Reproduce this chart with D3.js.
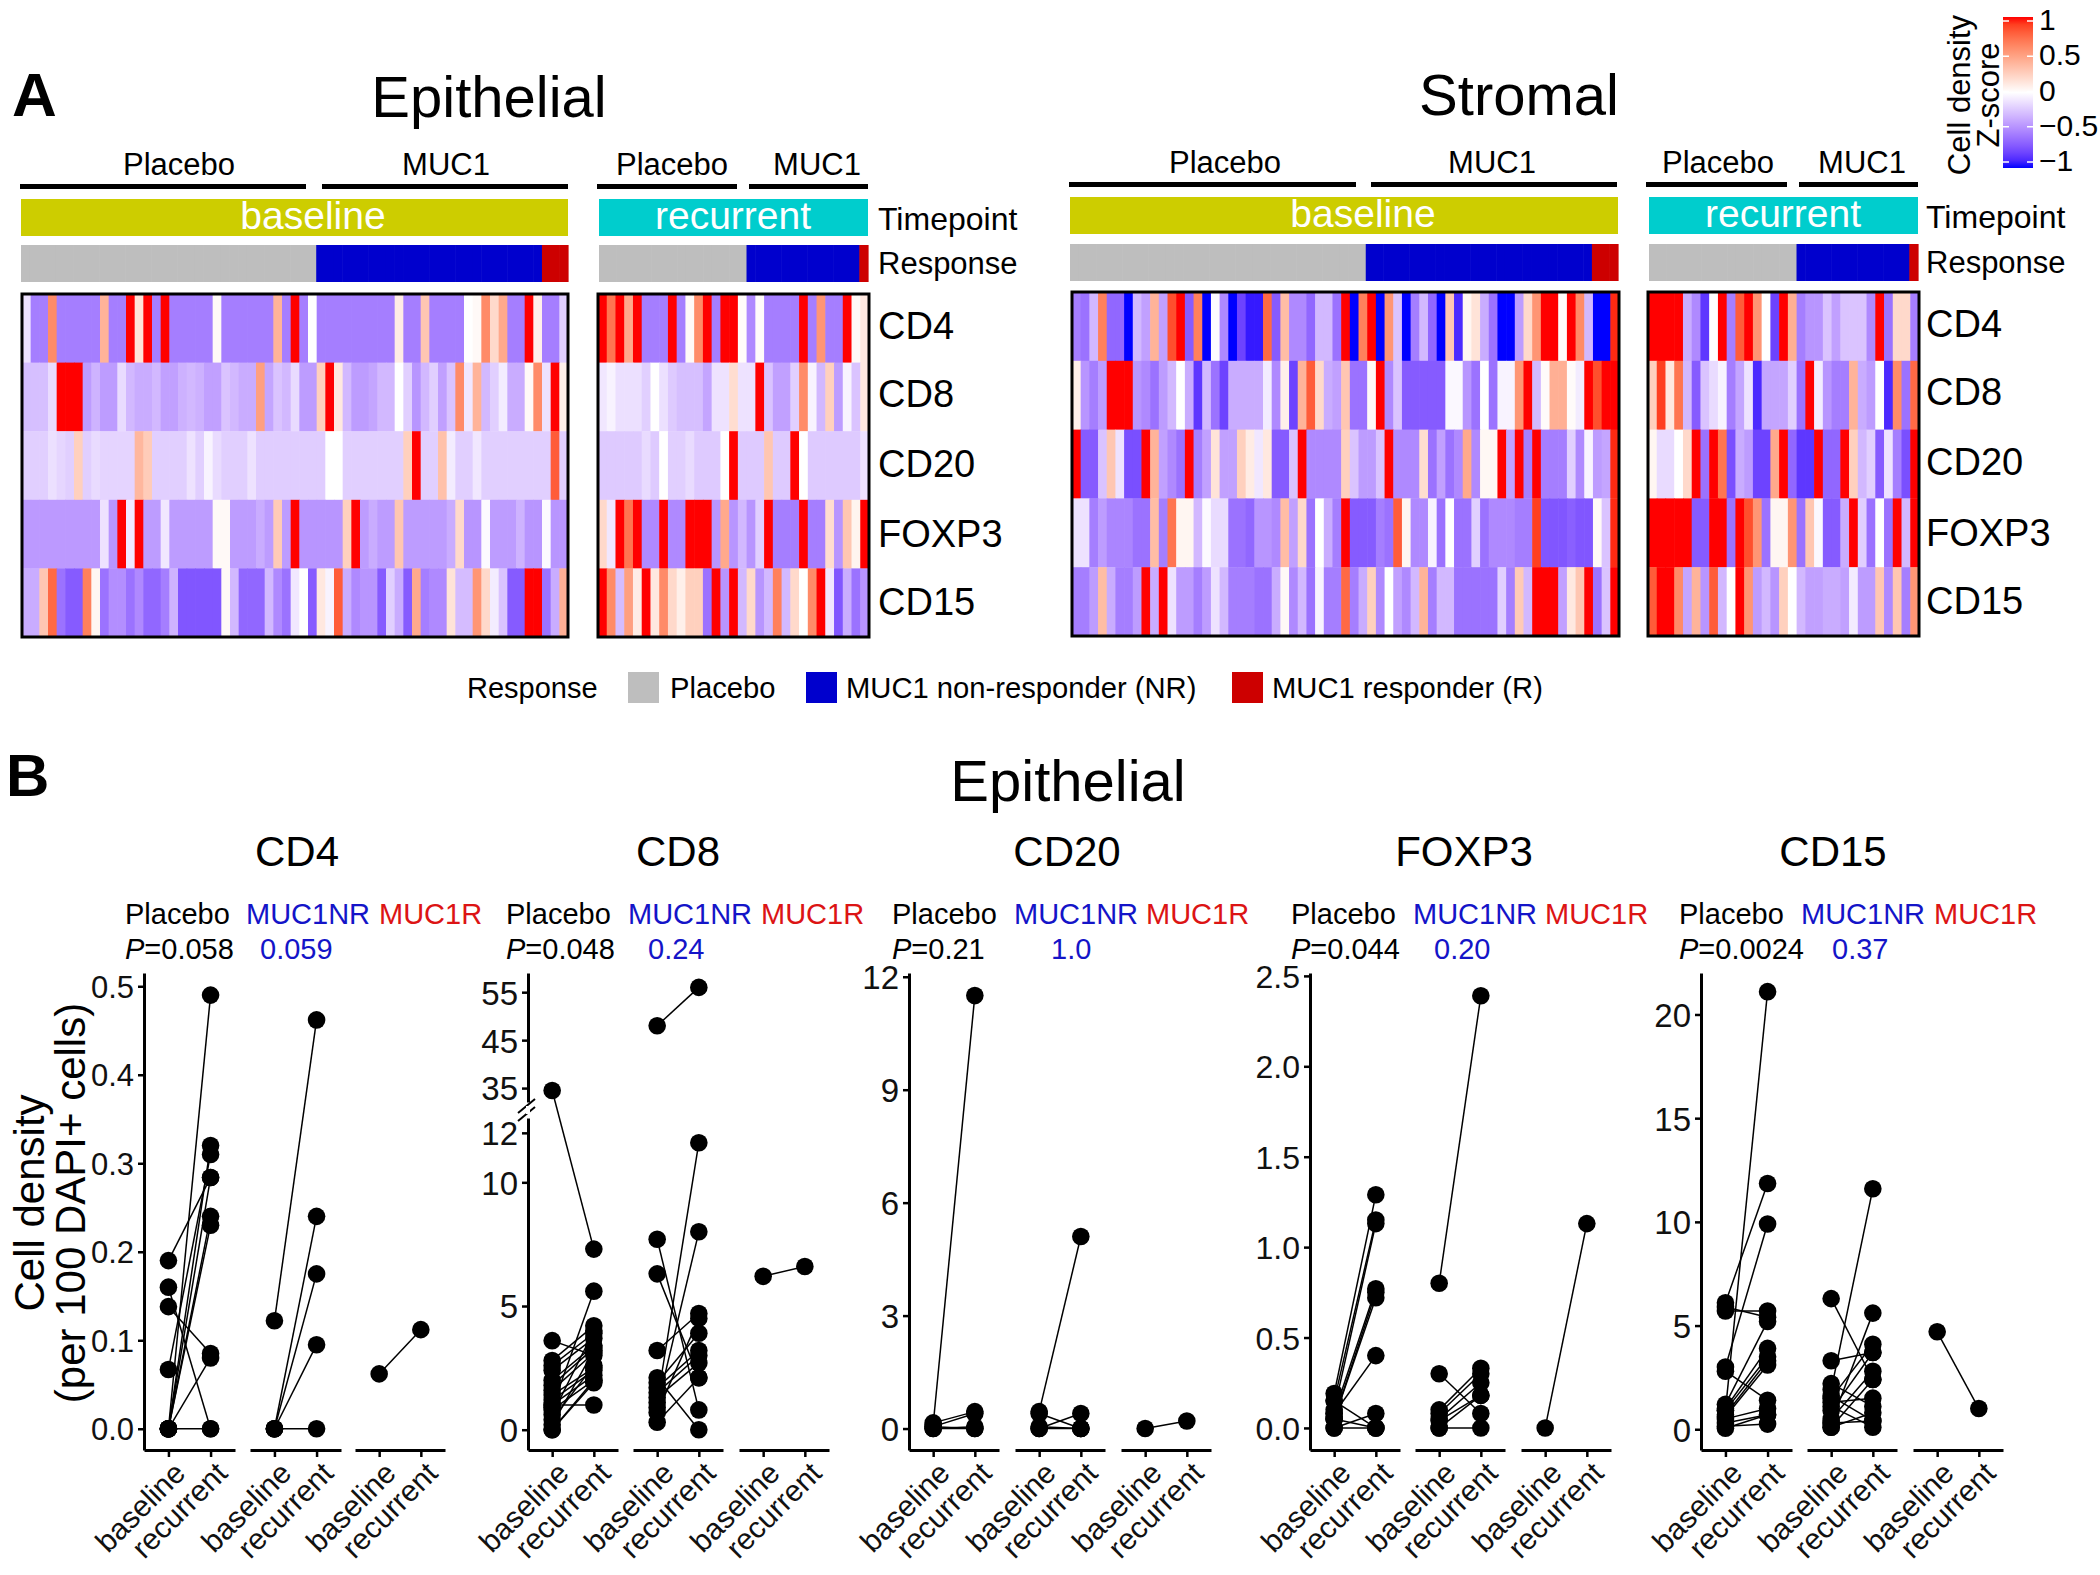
<!DOCTYPE html>
<html><head><meta charset="utf-8">
<script src="https://cdnjs.cloudflare.com/ajax/libs/d3/7.8.5/d3.min.js"></script>
<style>
html,body{margin:0;padding:0;background:#fff}
svg{display:block}
text{font-family:"Liberation Sans",Arial,sans-serif;fill:#000}
</style></head><body>
<svg id="c" width="2100" height="1575" viewBox="0 0 2100 1575"></svg>
<script>
// ---------- Panel A: labels ----------
const markers = ["CD4","CD8","CD20","FOXP3","CD15"];
const responseLevels = ["Placebo","MUC1 non-responder (NR)","MUC1 responder (R)"];
const responseColors = ["#bebebe","#0000cd","#cd0000"];
const baselineResponseCounts = [34,26,3];
const recurrentResponseCounts = [17,13,1];

// ---------- Panel A: epithelial baseline ----------
const epiBaseCD4 = [-.12,-.55,-.55,.6,-.55,-.55,-.55,-.55,-.55,.4,-.55,-.55,1,.15,1,-.55,1,-.55,-.55,-.55,-.55,-.55,.03,-.55,-.55,-.55,-.55,-.55,-.55,.4,-.55,1,-.55,0,-.55,-.55,-.55,-.55,-.55,-.55,-.55,-.55,-.55,.1,-.55,-.55,.3,-.55,-.55,-.55,-.55,0,.03,.6,.2,.45,-.55,-.55,1,.08,-.55,-.55,-.2];
const epiBaseCD8 = [-.27,-.27,-.27,-.15,1,1,1,-.42,-.32,-.42,-.42,-.15,-.3,-.35,-.35,-.3,-.4,-.4,-.33,-.3,-.33,-.4,-.4,-.25,-.3,-.35,-.35,.5,-.38,-.25,-.3,-.15,-.42,-.42,.25,1,.12,-.3,-.42,-.42,-.38,-.3,-.3,0,-.2,-.45,-.3,-.2,-.4,-.25,.6,-.1,.4,-.3,-.2,-.08,-.35,-.35,.03,.6,-.12,1,.08];
const epiBaseCD20 = [-.2,-.2,-.2,-.13,-.17,-.2,.25,-.2,-.15,-.18,-.18,-.18,-.18,.38,.27,-.2,-.2,-.2,-.2,-.12,-.2,-.05,-.15,-.2,-.2,-.2,-.12,-.21,-.21,-.21,-.21,-.21,-.21,-.21,-.21,0,0,-.2,-.2,-.2,-.2,-.2,-.2,-.2,.25,1,-.2,-.2,.33,-.08,-.2,-.2,-.1,-.2,-.2,-.2,-.2,-.2,-.2,-.2,-.2,.8,-.2];
const epiBaseFOXP3 = [-.43,-.43,-.43,-.43,-.43,-.43,-.43,-.43,-.43,-.12,-.45,1,-.1,1,-.42,-.42,-.1,-.42,-.42,-.42,-.42,-.42,.03,.03,-.42,-.42,-.42,-.35,-.42,.28,-.42,1,-.45,-.45,-.45,-.45,-.45,.25,1,-.42,-.35,-.42,-.42,.3,-.42,-.42,-.42,-.42,-.42,-.35,.2,-.45,-.45,-.02,-.42,-.42,-.42,-.32,-.45,-.45,-.02,-.45,-.45];
const epiBaseCD15 = [-.35,-.35,.3,.75,-.6,-.7,-.7,.65,.05,-.6,-.48,-.48,-.6,-.5,-.65,-.65,-.55,-.32,-.72,-.72,-.72,-.72,-.72,.03,-.3,-.65,-.65,-.65,-.3,-.5,-.6,-.1,0,-.7,.12,-.05,.8,-.35,-.5,-.45,-.45,-.7,-.2,-.35,-.7,.45,-.55,-.5,-.5,.15,-.28,-.28,.55,.2,-.08,-.25,-.7,-.7,1,1,-.6,-.35,.42];

// ---------- Panel A: epithelial recurrent ----------
const epiRecCD4 = [1,.7,1,.45,1,-.55,-.55,-.55,1,-.55,.03,.6,1,-.55,1,1,.02,-.5,.02,-.55,-.55,-.55,-.55,1,-.55,.55,-.55,-.55,1,.03,.12];
const epiRecCD8 = [-.1,-.05,-.13,-.13,-.13,-.2,0,-.13,-.22,-.27,-.27,-.27,-.38,-.12,-.12,.18,-.12,-.12,1,-.25,-.4,-.4,-.2,.6,-.05,-.3,.25,-.42,-.05,-.25,.12];
const epiRecCD20 = [-.22,-.22,-.22,-.22,-.22,-.15,-.22,0,-.2,-.2,-.15,-.22,-.22,-.22,0,1,-.22,-.22,-.22,.3,-.22,-.22,1,0,-.22,-.22,-.22,-.22,-.22,-.22,-.12];
const epiRecFOXP3 = [.2,-.1,1,.7,1,-.5,-.5,1,-.5,-.5,1,1,1,-.45,.45,-.45,-.3,-.45,-.2,1,-.55,-.55,-.55,1,-.55,-.55,.18,-.45,.3,.06,1];
const epiRecCD15 = [1,.6,-.28,.5,.1,1,.12,.6,.2,.08,.25,.25,-.6,1,-.45,1,-.3,.2,-.45,-.3,.65,-.3,.2,0,.6,1,-.1,-.72,-.35,-.6,-.45];

// ---------- Panel A: stromal baseline ----------
const strBaseCD4 = [-.55,-.6,-.3,.65,-.65,-.65,-1,-.3,-.4,.4,-.4,.85,1,-.7,.65,-1,-.02,-.5,-1,-.8,-.95,-.95,.75,-.7,.35,-.5,-.5,-.65,-.3,-.3,-.6,1,-1,.65,1,-1,.55,-.25,-1,-.55,-.3,-.65,-1,.3,-.9,.05,.15,-.35,-.6,-1,-1,-.42,.2,.55,1,1,.02,1,.6,-.3,-1,-1,.95];
const strBaseCD8 = [.08,-.45,-.55,-.42,1,1,1,-.45,-.5,-.6,-.42,-.3,0,-.35,-.85,-.3,-.6,-.8,-.35,-.35,-.35,-.35,-.08,-.5,.08,-.8,.4,.8,.2,-.35,-.4,.3,-.6,-.6,.03,1,-.5,-.25,-.7,-.7,-.7,-.7,-.7,-.03,-.03,-.45,-.6,0,-.6,-.05,-.05,.55,1,-.3,.02,.42,.42,.02,-.08,1,.85,1,1];
const strBaseCD20 = [1,-.7,-.7,-.25,.3,-.12,-.75,-.75,1,.4,-.4,-.5,-.6,1,-.55,-.4,.15,-.4,-.4,.25,.1,-.1,.12,-.7,-.7,-.25,1,-.5,-.5,-.5,-.5,.25,-.25,-.42,-.42,-.25,1,-.5,-.5,-.5,.18,-.6,-.4,-.6,-.5,.45,-.5,.04,.04,1,-.4,1,-.55,1,-.55,-.55,-.55,-.2,-.5,-.05,-.42,-.38,.95];
const strBaseFOXP3 = [-.12,-.12,-.55,-.42,-.52,-.52,-.52,-.6,-.6,.35,-.55,.7,.05,.05,-.3,-.02,-.15,-.15,-.6,-.6,-.65,-.45,-.45,-.5,.35,-.4,.2,-.6,0,-.35,-.55,1,-.7,-.7,-.7,-.55,-.6,.8,.05,-.5,-.5,-.05,-.6,0,-.6,-.6,-.2,-.6,-.5,-.5,-.5,-.55,-.55,.9,-.72,-.72,-.72,-.68,-.72,-.72,.03,-.25,.95];
const strBaseCD15 = [-.55,-.55,-.42,.35,-.35,-.55,-.55,-.42,1,-.35,1,-.12,-.42,-.42,-.55,-.42,-.12,-.3,-.55,-.55,-.55,-.6,-.6,-.35,.03,-.5,-.3,-.6,-.05,-.55,-.55,.75,-.55,-.35,.25,-.5,0,-.4,-.5,-.3,.4,-.55,-.3,-.3,-.6,-.6,-.6,-.6,-.6,-.2,-.55,.28,-.3,1,1,1,-.4,.12,.3,1,-.6,-.25,1];

// ---------- Panel A: stromal recurrent ----------
const strRecCD4 = [1,1,1,1,-.35,-.5,-.85,0,1,-.55,.8,1,.55,0,-.8,1,.42,-.55,-.45,-.45,-.25,-.4,-.25,-.25,-.25,-.5,1,-.6,.2,.2,-.55];
const strRecCD8 = [.25,.9,.12,.7,-.3,-.7,-.25,-.15,-.05,-.55,-.38,-.12,-.9,-.38,-.38,-.38,-.2,-.6,1,-.08,-.45,-.55,-.55,.4,-.35,-.42,0,-.9,.6,-.6,.75];
const strRecCD20 = [.05,-.15,-.15,0,.2,1,-.6,1,.7,-.75,-.35,-.42,-.8,-.8,.45,1,-.65,-.85,-.85,1,-.65,-.65,1,.25,-.3,-.2,-.7,-.12,-.55,-.75,1];
const strRecFOXP3 = [1,1,1,1,1,-.7,-.7,1,1,-.6,1,.85,.55,-.6,.05,.05,.55,-.6,.3,-.03,-.7,-.7,-.35,1,-.2,-.6,0,-.6,1,-.3,1];
const strRecCD15 = [.8,1,1,.6,-.38,.4,-.45,.8,-.3,0,1,.55,-.42,-.3,-.45,.25,0,-.3,-.4,-.4,-.35,-.35,-.4,-.08,-.42,-.42,.3,-.5,.3,-.55,.55];

// ---------- Panel B: paired values [baseline, recurrent] ----------
const cd4Placebo = [[0,.49],[.19,.284],[.16,0],[.138,.085],[.067,.31],[0,.32],[0,.284],[0,.24],[0,.23],[0,.08],[0,0]];
const cd4NR = [[.122,.462],[0,.24],[0,.175],[0,.095],[0,0]];
const cd4R = [[.062,.112]];
const cd8Placebo = [[34.5,7.3],[3.6,3.0],[.9,5.6],[2.8,4.2],[2.6,3.9],[2.4,3.7],[2.0,3.4],[1.8,3.3],[1.6,3.1],[1.4,2.5],[1.2,2.4],[1.0,2.2],[.8,2.0],[.6,4.0],[.4,2.6],[.2,3.2],[1.0,1.0],[0,2.0],[0,1.9]];
const cd8NR = [[48,56],[7.7,.8],[6.3,2.1],[3.2,4.7],[2.1,0],[1.9,3.9],[1.7,3.2],[1.5,3.0],[1.3,2.7],[1.1,11.6],[.9,8.0],[.7,4.5],[.3,2.1]];
const cd8R = [[6.2,6.6]];
const cd20Placebo = [[.1,11.5],[.15,.45],[0,.05],[0,0],[.05,.4],[.05,0]];
const cd20NR = [[.45,5.1],[.4,0],[0,.4],[0,0],[.05,0]];
const cd20R = [[0,.2]];
const foxp3Placebo = [[.19,1.29],[.15,1.15],[.1,1.13],[.08,.77],[.05,.75],[.05,.72],[.08,.4],[.15,0],[0,.08],[0,0],[.05,0]];
const foxp3NR = [[.8,2.39],[.3,.08],[.1,.33],[.08,.3],[.05,.25],[.04,.18],[0,0],[0,.18]];
const foxp3R = [[0,1.13]];
const cd15Placebo = [[.9,21.1],[6.1,11.85],[3.0,9.9],[5.7,5.7],[1.2,5.2],[5.9,5.4],[2.8,1.4],[1.0,3.9],[.9,3.5],[.7,3.3],[.6,3.1],[.5,1.0],[.3,.7],[.15,.25],[.05,.7]];
const cd15NR = [[1.9,11.6],[6.3,2.4],[3.3,3.7],[.3,5.6],[1.5,4.1],[.9,3.7],[.5,2.8],[2.2,1.1],[1.6,.4],[1.3,1.5],[1.1,.1],[.3,.4],[.1,.8],[.1,2.4]];
const cd15R = [[4.7,1.0]];
const timepoints = ["baseline","recurrent"];

// ---------- Drawing ----------
const svg = d3.select("#c");
const color = d3.scaleLinear().domain([-1,0,1]).range(["#0000ff","#ffffff","#ff0000"]).interpolate(d3.interpolateLab).clamp(true);
function txt(g,s,x,y,size,o={}){
  const t=g.append("text").attr("x",x).attr("y",y).attr("font-size",size).text(s);
  if(o.anchor)t.attr("text-anchor",o.anchor);
  if(o.weight)t.attr("font-weight",o.weight);
  if(o.fill)t.style("fill",o.fill);
  if(o.rotate)t.attr("transform",`rotate(${o.rotate},${x},${y})`);
  return t;
}

function heat(cfg){
  const g=svg.append("g");
  const n=cfg.rows[0].length;
  const x=d3.scaleBand().domain(d3.range(n)).range([cfg.x0,cfg.x1]);
  const y=d3.scaleBand().domain(markers).range([cfg.y0,cfg.y1]);
  cfg.rows.forEach((row,i)=>{
    g.append("g").selectAll("rect").data(row).join("rect")
      .attr("x",(d,j)=>x(j)).attr("y",y(markers[i]))
      .attr("width",x.bandwidth()+.6).attr("height",y.bandwidth()+.4)
      .attr("fill",d=>color(d));
  });
  g.append("rect").attr("x",cfg.x0).attr("y",cfg.y0).attr("width",cfg.x1-cfg.x0).attr("height",cfg.y1-cfg.y0)
    .attr("fill","none").attr("stroke","#000").attr("stroke-width",3);
  // annotation bars
  g.append("rect").attr("x",cfg.tx0).attr("y",cfg.ty).attr("width",cfg.tx1-cfg.tx0).attr("height",37).attr("fill",cfg.tcolor);
  txt(g,cfg.tlabel,cfg.tlabelX,cfg.ty+30,39,{anchor:"middle",fill:"#fff"});
  const rx=d3.scaleBand().domain(d3.range(n)).range([cfg.tx0,cfg.tx1]);
  const resp=[]; cfg.counts.forEach((c,k)=>d3.range(c).forEach(()=>resp.push(k)));
  g.append("g").selectAll("rect").data(resp).join("rect")
    .attr("x",(d,j)=>rx(j)).attr("y",cfg.ry).attr("width",rx.bandwidth()+.6).attr("height",37)
    .attr("fill",d=>responseColors[d]);
  // group brackets
  cfg.groups.forEach(b=>{
    g.append("rect").attr("x",b[0]).attr("y",cfg.by).attr("width",b[1]-b[0]).attr("height",5).attr("fill","#000");
    txt(g,b[2],b[3],cfg.by-9,31,{anchor:"middle"});
  });
  if(cfg.labelX){
    txt(g,"Timepoint",cfg.labelX,cfg.ty+31,32);
    txt(g,"Response",cfg.labelX,cfg.ry+29,31);
    markers.forEach((m,i)=>txt(g,m,cfg.labelX,cfg.labelY[i],38));
  }
}

heat({x0:22,x1:568,y0:294,y1:637,rows:[epiBaseCD4,epiBaseCD8,epiBaseCD20,epiBaseFOXP3,epiBaseCD15],
  tx0:21,tx1:568,ty:199,tcolor:"#cdcd00",tlabel:"baseline",tlabelX:313,ry:245,counts:baselineResponseCounts,by:184,
  groups:[[20,306,"Placebo",179],[322,568,"MUC1",446]]});
heat({x0:598,x1:869,y0:294,y1:637,rows:[epiRecCD4,epiRecCD8,epiRecCD20,epiRecFOXP3,epiRecCD15],
  tx0:599,tx1:868,ty:199,tcolor:"#00cdcd",tlabel:"recurrent",tlabelX:733,ry:245,counts:recurrentResponseCounts,by:184,
  groups:[[597,737,"Placebo",672],[749,868,"MUC1",817]],labelX:878,labelY:[339,407,477,547,615]});
heat({x0:1072,x1:1619,y0:292,y1:636,rows:[strBaseCD4,strBaseCD8,strBaseCD20,strBaseFOXP3,strBaseCD15],
  tx0:1070,tx1:1618,ty:197,tcolor:"#cdcd00",tlabel:"baseline",tlabelX:1363,ry:244,counts:baselineResponseCounts,by:182,
  groups:[[1069,1356,"Placebo",1225],[1371,1617,"MUC1",1492]]});
heat({x0:1648,x1:1919,y0:292,y1:636,rows:[strRecCD4,strRecCD8,strRecCD20,strRecFOXP3,strRecCD15],
  tx0:1649,tx1:1918,ty:197,tcolor:"#00cdcd",tlabel:"recurrent",tlabelX:1783,ry:244,counts:recurrentResponseCounts,by:182,
  groups:[[1646,1787,"Placebo",1718],[1799,1918,"MUC1",1862]],labelX:1926,labelY:[337,405,475,546,614]});

txt(svg,"A",12,116,62,{weight:"bold"});
txt(svg,"Epithelial",489,117,58,{anchor:"middle"});
txt(svg,"Stromal",1519,115,58,{anchor:"middle"});

// colour bar
const legendVals=[1,.5,0,-.5,-1];
const cbY=d3.scaleLinear().domain([-1,1]).range([162,21]);
const defs=svg.append("defs");
const grad=defs.append("linearGradient").attr("id","cb").attr("x1",0).attr("x2",0).attr("y1",1).attr("y2",0);
d3.range(-1,1.001,.1).forEach(v=>grad.append("stop").attr("offset",(v+1)/2).attr("stop-color",color(v)));
svg.append("rect").attr("x",2003).attr("y",17).attr("width",30).attr("height",151).attr("fill","url(#cb)");
legendVals.forEach(v=>{
  const yy=cbY(v);
  svg.append("line").attr("x1",2003).attr("x2",2009).attr("y1",yy).attr("y2",yy).attr("stroke","#fff").attr("stroke-width",1.5);
  svg.append("line").attr("x1",2027).attr("x2",2033).attr("y1",yy).attr("y2",yy).attr("stroke","#fff").attr("stroke-width",1.5);
  txt(svg,v<0?"\u2212"+(-v):String(v),2039,yy+9,30);
});
txt(svg,"Cell density",1970,95,31,{anchor:"middle",rotate:-90});
txt(svg,"Z-score",1999,95,31,{anchor:"middle",rotate:-90});

// response legend
txt(svg,"Response",467,698,29);
const legendBox=[628,806,1232], legendText=[670,846,1272];
responseLevels.forEach((r,i)=>{
  svg.append("rect").attr("x",legendBox[i]).attr("y",672).attr("width",31).attr("height",31).attr("fill",responseColors[i]);
  txt(svg,r,legendText[i],698,29.2);
});

// ---------- Panel B ----------
txt(svg,"B",6,796,60,{weight:"bold"});
txt(svg,"Epithelial",1068,801,58,{anchor:"middle"});
txt(svg,"Cell density",44,1203,42,{anchor:"middle",rotate:-90});
txt(svg,"(per 100 DAPI+ cells)",85,1203,42,{anchor:"middle",rotate:-90});

const axisTop=973, axisBot=1450, rPt=8.8;
function styleAxis(a){
  a.selectAll("path.domain").attr("stroke","#000").attr("stroke-width",3);
  a.selectAll(".tick line").attr("stroke","#000").attr("stroke-width",2.5);
  a.selectAll("text").style("fill","#111");
}
function panel(p){
  const g=svg.append("g");
  txt(g,p.title,p.titleX,866,42,{anchor:"middle"});
  txt(g,"Placebo",p.head[0],924,29);
  txt(g,"MUC1NR",p.head[1],924,29,{fill:"#1414c8"});
  txt(g,"MUC1R",p.head[2],924,29,{fill:"#dc1414"});
  const pt=txt(g,"",p.head[0],959,29);
  pt.append("tspan").attr("font-style","italic").text("P");
  pt.append("tspan").text("="+p.pv[0]);
  txt(g,p.pv[1],p.pvX,959,29,{fill:"#1414c8"});

  // y scale(s)
  let y, axes;
  if(p.upper){
    const lo=d3.scaleLinear().domain(p.lim).range([axisBot,p.breakY+8]);
    const hi=d3.scaleLinear().domain(p.upper).range([p.breakY-8,axisTop]);
    y=v=>v>p.lim[1]?hi(v):lo(v);
    axes=[[lo,p.ticks],[hi,p.upperTicks]];
  } else {
    const s=d3.scaleLinear().domain(p.lim).range([axisBot,axisTop]);
    y=s; axes=[[s,p.ticks]];
  }
  axes.forEach(([s,t])=>{
    const a=g.append("g").attr("transform",`translate(${p.axisX},0)`)
      .call(d3.axisLeft(s).tickValues(t).tickFormat(d3.format(p.fmt)).tickSize(6).tickSizeOuter(0).tickPadding(4));
    a.attr("font-family",null).attr("font-size",null);
    a.selectAll("text").attr("font-size",p.tickSize||33).attr("dy",".36em");
    styleAxis(a);
  });
  if(p.upper){
    [-4,4].forEach(d=>g.append("line").attr("x1",p.axisX-10).attr("x2",p.axisX+7)
      .attr("y1",p.breakY+d+7).attr("y2",p.breakY+d-7).attr("stroke","#000").attr("stroke-width",2));
    g.append("rect").attr("x",p.axisX-2).attr("y",p.breakY-4).attr("width",4).attr("height",8).attr("fill","#fff");
  }

  p.groups.forEach((data,i)=>{
    const seg=p.segs[i];
    const x=d3.scalePoint().domain(timepoints).range(seg).padding(.58);
    const ax=g.append("g").attr("transform",`translate(0,${axisBot})`)
      .call(d3.axisBottom(x).tickSize(7).tickSizeOuter(0));
    ax.attr("font-family",null).attr("font-size",null);
    ax.selectAll("text").attr("font-size",30).attr("text-anchor","end")
      .attr("x",0).attr("y",0).attr("dy",0).attr("transform","translate(18,25) rotate(-45)");
    styleAxis(ax);
    g.append("g").selectAll("line").data(data).join("line")
      .attr("x1",x(timepoints[0])).attr("x2",x(timepoints[1]))
      .attr("y1",d=>y(d[0])).attr("y2",d=>y(d[1]))
      .attr("stroke","#000").attr("stroke-width",1.5);
    g.append("g").selectAll("circle").data(data.flatMap(d=>[[0,d[0]],[1,d[1]]])).join("circle")
      .attr("cx",d=>x(timepoints[d[0]])).attr("cy",d=>y(d[1])).attr("r",rPt).attr("fill","#000");
  });
}

panel({title:"CD4",titleX:297,head:[125,246,379],pv:["0.058","0.059"],pvX:260,axisX:144,tickSize:31,
  lim:[-.024,.515],ticks:[0,.1,.2,.3,.4,.5],fmt:".1f",
  segs:[[144,235],[250,341],[355,445]],groups:[cd4Placebo,cd4NR,cd4R]});
panel({title:"CD8",titleX:678,head:[506,628,761],pv:["0.048","0.24"],pvX:648,axisX:528,
  lim:[-.82,12.6],ticks:[0,5,10,12],fmt:"d",upper:[32.1,59],upperTicks:[35,45,55],breakY:1110,
  segs:[[528,618],[633,723],[739,829]],groups:[cd8Placebo,cd8NR,cd8R]});
panel({title:"CD20",titleX:1067,head:[892,1014,1146],pv:["0.21","1.0"],pvX:1051,axisX:909,
  lim:[-.57,12.1],ticks:[0,3,6,9,12],fmt:"d",
  segs:[[909,999],[1015,1105],[1121,1211]],groups:[cd20Placebo,cd20NR,cd20R]});
panel({title:"FOXP3",titleX:1464,head:[1291,1413,1545],pv:["0.044","0.20"],pvX:1434,axisX:1310,tickSize:32,
  lim:[-.122,2.516],ticks:[0,.5,1,1.5,2,2.5],fmt:".1f",
  segs:[[1310,1400],[1415,1505],[1521,1611]],groups:[foxp3Placebo,foxp3NR,foxp3R]});
panel({title:"CD15",titleX:1833,head:[1679,1801,1934],pv:["0.0024","0.37"],pvX:1832,axisX:1701,
  lim:[-1,22],ticks:[0,5,10,15,20],fmt:"d",
  segs:[[1701,1792],[1807,1897],[1913,2003]],groups:[cd15Placebo,cd15NR,cd15R]});
</script>
</body></html>
